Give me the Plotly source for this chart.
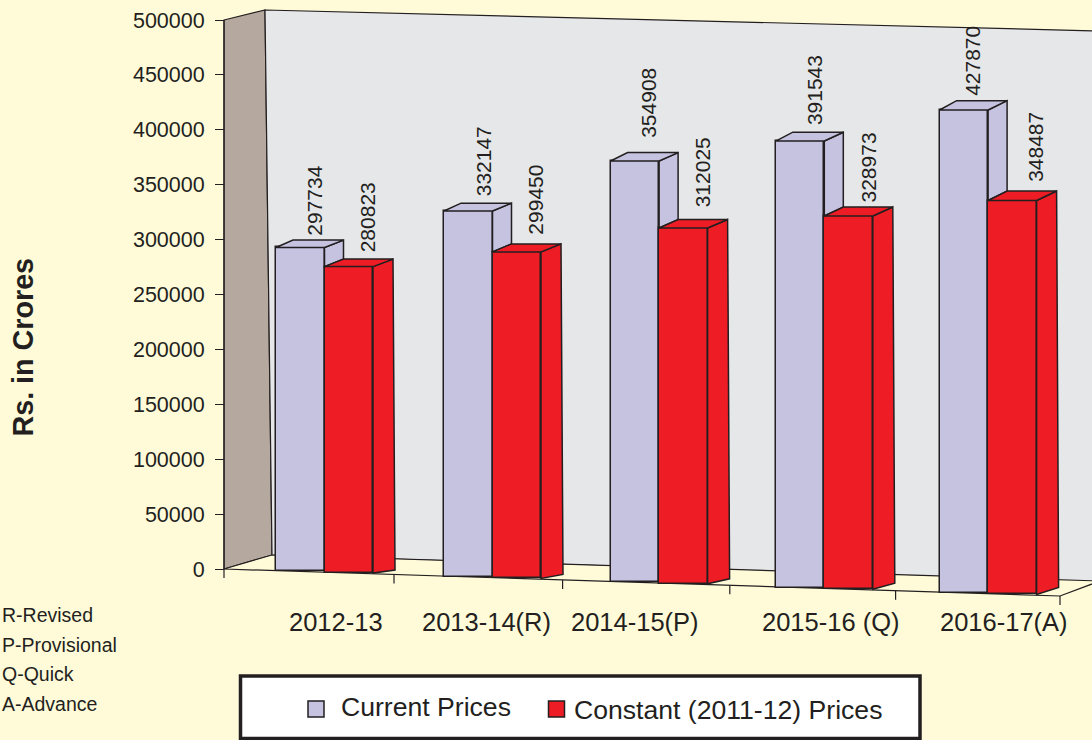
import plotly.graph_objects as go

# ---- data ----
categories = ["2012-13", "2013-14(R)", "2014-15(P)", "2015-16 (Q)", "2016-17(A)"]
current_labels = [297734, 332147, 354908, 391543, 427870]
constant_labels = [280823, 299450, 312025, 328973, 348487]
# drawn bar heights, measured against the value axis (the source art is not exactly to scale)
current_heights = [295100, 333200, 383700, 406700, 439800]
constant_heights = [279100, 297400, 324100, 339900, 358800]
y_ticks = [0, 50000, 100000, 150000, 200000, 250000, 300000, 350000, 400000, 450000, 500000]
notes = ["R-Revised", "P-Provisional", "Q-Quick", "A-Advance"]
series_names = ["Current Prices", "Constant (2011-12) Prices"]

# ---- styles ----
BG = "#fffbd9"
WALL = "#e6e7e8"
SIDE = "#b5a89e"
CUR = "#c5c3e0"
RED = "#ee1c25"
INK = "#231f20"
FONT = "Liberation Sans, Arial"

# ---- projection of the pseudo-3D box ----
W, H = 1092, 740
Y0_PX, Y_MAX_PX = 569, 20
UNIT = 500000 / (Y0_PX - Y_MAX_PX)
def val(py):
    return (Y0_PX - py) * UNIT
def px(v):
    return Y0_PX - v / UNIT
def floor_px(x):
    return 569 + (x - 224) * 0.0323
def group_left(i):
    return 276 + 168 * i - 0.7 * i * (i - 1)
def tick_x(i):
    return 224 + 170 * i - 0.7 * i * (i - 1)
BAR_W = 48.5

def path(points):
    return "M" + " L".join(f"{x:.2f},{val(y):.1f}" for x, y in points) + " Z"

n = len(categories)
idx = range(n)
cur_x = [group_left(i) + BAR_W / 2 for i in idx]
red_x = [group_left(i) + BAR_W * 1.5 for i in idx]
cur_base = [val(floor_px(x)) for x in cur_x]
red_base = [val(floor_px(x)) for x in red_x]
cur_top = [px(b + h) for b, h in zip(cur_base, current_heights)]
red_top = [px(b + h) for b, h in zip(red_base, constant_heights)]

def polys(faces):
    xs, ys = [], []
    for f in faces:
        for x, y in f + [f[0]]:
            xs.append(x); ys.append(val(y))
        xs.append(None); ys.append(None)
    return xs, ys

def dy_top(x):
    return 7.5 + (x - 373) * 0.003
def dy_bot(x):
    return 3 + (x - 373) * 0.006

cur_side, cur_roof, red_side, red_roof = [], [], [], []
for i in idx:
    l = group_left(i)
    m = l + BAR_W
    r = l + 2 * BAR_W
    ct, rt = cur_top[i], red_top[i]
    cur_side.append([(m, ct), (m + 19, ct - dy_top(m)), (m + 19, rt - dy_top(m)), (m, rt)])
    cur_roof.append([(l, ct), (m, ct), (m + 19, ct - dy_top(m)), (l + 17, ct - dy_top(m))])
    bot = floor_px(red_x[i])
    red_side.append([(r, rt), (r + 20, rt - dy_top(r)), (r + 22, bot - dy_bot(r)), (r, bot)])
    red_roof.append([(m, rt), (r, rt), (r + 20, rt - dy_top(r)), (m + 19, rt - dy_top(r))])

fig = go.Figure()
fig.add_bar(x=cur_x, y=current_heights, base=cur_base, width=BAR_W, marker=dict(color=CUR, line=dict(color=INK, width=1.5)), showlegend=False, name=series_names[0])
fig.add_bar(x=red_x, y=constant_heights, base=red_base, width=BAR_W, marker=dict(color=RED, line=dict(color=INK, width=1.5)), showlegend=False, name=series_names[1])
for faces, col in [(cur_side, CUR), (cur_roof, CUR), (red_side, RED), (red_roof, RED)]:
    xs, ys = polys(faces)
    fig.add_scatter(x=xs, y=ys, mode="lines", fill="toself", fillcolor=col, line=dict(color=INK, width=1.5), showlegend=False, hoverinfo="skip")

# legend keys
fig.add_scatter(x=[316], y=[val(709)], mode="markers", marker=dict(symbol="square", size=16, color=CUR, line=dict(color=INK, width=1.5)), showlegend=False, hoverinfo="skip")
fig.add_scatter(x=[556.5], y=[val(709)], mode="markers", marker=dict(symbol="square", size=16, color=RED, line=dict(color=INK, width=1.5)), showlegend=False, hoverinfo="skip")

shapes = [
    dict(type="path", path=path([(224, 20), (265, 10), (272, 555), (224, 569)]), fillcolor=SIDE, line=dict(color=INK, width=1.2), layer="below"),
    dict(type="path", path=path([(265, 10), (1100, 31), (1100, 582), (272, 555)]), fillcolor=WALL, line=dict(color=INK, width=1.2), layer="below"),
    dict(type="path", path=path([(224, 569), (272, 555), (1100, 581), (1060, 596)]), fillcolor=BG, line=dict(color=INK, width=1.2), layer="below"),
    dict(type="line", x0=224, x1=224, y0=0, y1=500000, line=dict(color=INK, width=1.2), layer="below"),
    # legend box
    dict(type="rect", x0=240.5, x1=920, y0=val(676), y1=val(738.5), fillcolor="white", line=dict(color=INK, width=3.5), layer="below"),
]
for i in range(n + 1):
    tx = tick_x(i)
    shapes.append(dict(type="line", x0=tx, x1=tx, y0=val(floor_px(tx)), y1=val(floor_px(tx) + 9), line=dict(color=INK, width=1.2), layer="below"))

annotations = []
cur_shift = [(14, 10), (15, 13), (14, 21), (14, 14), (8, 12)]
red_shift = [(19, 12), (19, 15), (20, 19), (20, 11), (23, 17)]
for i in idx:
    for x, top, lab, (sx, sy) in [(cur_x[i], cur_top[i], current_labels[i], cur_shift[i]), (red_x[i], red_top[i], constant_labels[i], red_shift[i])]:
        annotations.append(dict(x=x, y=val(top), text=str(lab), showarrow=False, textangle=-90, xanchor="center", yanchor="bottom",
                                xshift=sx, yshift=sy, font=dict(family=FONT, size=21, color=INK)))
cat_x = [335.5, 486.5, 635, 831, 1004]
for c, x in zip(categories, cat_x):
    annotations.append(dict(x=x, y=val(622), text=c, showarrow=False, xanchor="center", yanchor="middle", font=dict(family=FONT, size=25.5, color=INK)))
for k, t in enumerate(notes):
    annotations.append(dict(xref="paper", yref="paper", x=0, y=1 - (615 + 29.5 * k) / H, text=t, showarrow=False, xanchor="left", yanchor="middle",
                            font=dict(family=FONT, size=19.5, color=INK)))
annotations.append(dict(xref="paper", yref="paper", x=23 / W, y=1 - 347.5 / H, text="<b>Rs. in Crores</b>", showarrow=False, textangle=-90, xanchor="center", yanchor="middle",
                        font=dict(family=FONT, size=28.7, color=INK)))
annotations.append(dict(x=339, y=val(707), text=series_names[0], showarrow=False, xanchor="left", yanchor="middle", font=dict(family=FONT, size=26.6, color=INK)))
annotations.append(dict(x=572, y=val(710), text=series_names[1], showarrow=False, xanchor="left", yanchor="middle", font=dict(family=FONT, size=26.6, color=INK)))

fig.update_layout(
    width=W, height=H, margin=dict(l=0, r=0, t=0, b=0),
    paper_bgcolor=BG, plot_bgcolor=BG, barmode="overlay", bargap=0, showlegend=False,
    shapes=shapes, annotations=annotations,
    xaxis=dict(range=[0, W], visible=False, fixedrange=True),
    yaxis=dict(range=[val(H), val(0)], anchor="free", position=224 / W, tickvals=y_ticks, ticktext=[str(v) for v in y_ticks],
               ticks="outside", ticklen=9, tickwidth=1.2, tickcolor=INK, showgrid=False, zeroline=False, showline=False,
               tickfont=dict(family=FONT, size=21.5, color=INK), ticklabelstandoff=6, fixedrange=True),
)
fig.write_html("out.html", config=dict(displayModeBar=False), post_script="document.body.style.margin='0';document.body.style.overflow='hidden';")
